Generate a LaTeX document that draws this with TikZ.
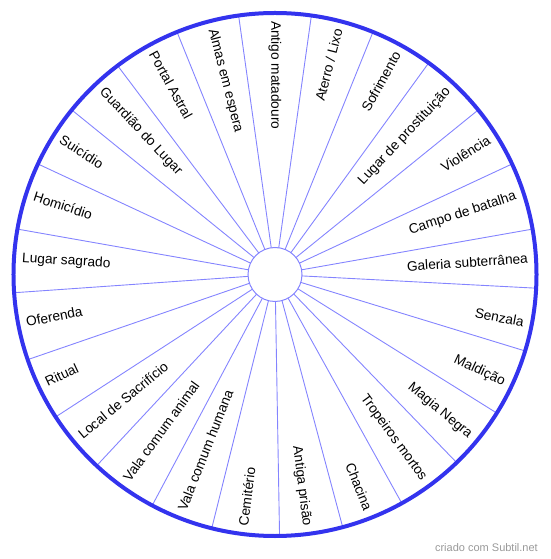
\documentclass[tikz,border=0pt]{standalone}
\usepackage{fontspec}
\setmainfont{Liberation Sans}
\definecolor{rimblue}{HTML}{3333EE}
\definecolor{spokeblue}{HTML}{8484FF}
\definecolor{markgray}{HTML}{999999}
\pgfdeclarelayer{background}
\pgfsetlayers{background,main}
\begin{document}
\begin{tikzpicture}[x=1pt,y=1pt,
  lbl/.style={font=\fontsize{13.7}{16}\selectfont, inner sep=0pt, text=black},
  hubstyle/.style={circle, draw=spokeblue, line width=1pt, minimum size=54pt, inner sep=0pt, outer sep=0pt},
  rimstyle/.style={circle, draw=rimblue, line width=4pt, minimum size=523pt, inner sep=0pt, outer sep=0pt},
  spokestyle/.style={draw=spokeblue, line width=0.9pt}]
\useasboundingbox (-275,-284.5) rectangle (275,274.5);
\node[hubstyle] (hub) at (0,0) {};
\node[rimstyle] (rim) at (0,0) {};
\begin{pgfonlayer}{background}
\foreach \k in {0,...,24}{
  \pgfmathsetmacro\s{82.8-\k*14.4}
  \draw[spokestyle] (hub.\s) -- (rim.\s);
}
\end{pgfonlayer}
\foreach \t [count=\k from 0] in {Antigo matadouro, Aterro / Lixo, Sofrimento, Lugar de prostituição, Violência, Campo de batalha, Galeria subterrânea, Senzala, Maldição, Magia Negra, Tropeiros mortos, Chacina, Antiga prisão, Cemitério, Vala comum humana, Vala comum animal, Local de Sacrifício, Ritual, Oferenda, Lugar sagrado, Homicídio, Suicídio, Guardião do Lugar, Portal Astral, Almas em espera}{
  \pgfmathsetmacro\a{90-\k*14.4}
  \ifnum\k>0
    \ifnum\k<13
      \node[lbl, anchor=east, rotate=\a] (l\k) at (\a:253.5) {\t};
    \else
      \pgfmathsetmacro\b{\a+180}
      \node[lbl, anchor=west, rotate=\b] (l\k) at (\a:253.5) {\t};
    \fi
  \else
    \node[lbl, anchor=west, rotate=270] (l\k) at (\a:253.5) {\t};
  \fi
}
\node[font=\fontsize{11}{13}\selectfont, text=markgray, anchor=east, inner sep=0pt] (mark) at (263,-273.5) {criado com Subtil.net};
\end{tikzpicture}
\end{document}
